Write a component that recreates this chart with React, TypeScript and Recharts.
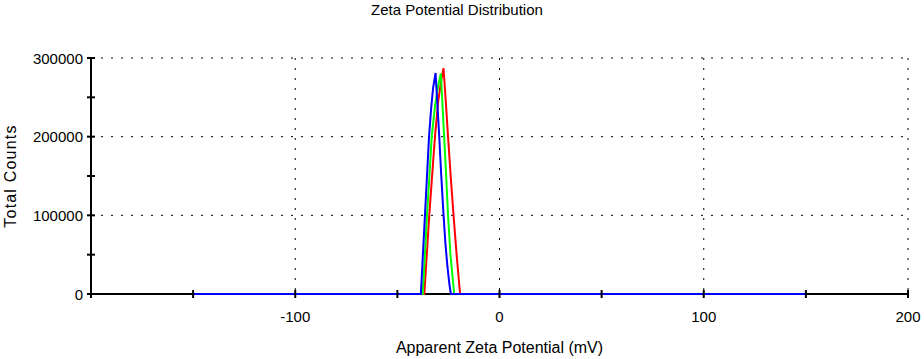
import { CartesianGrid, Line, LineChart, XAxis, YAxis } from 'recharts';

const X_TICKS = [-200, -150, -100, -50, 0, 50, 100, 150, 200];
const X_LABELED = [-100, 0, 100, 200];
const Y_TICKS = [0, 50000, 100000, 150000, 200000, 250000, 300000];
const Y_LABELED = [0, 100000, 200000, 300000];

// mV / counts
const RED_MV = [-150, -36.8, -35.6, -34.4, -33, -31.6, -30, -28.5, -27.4, -26.3, -25.2, -23.9, -22.5, -21, -19.3, 150];
const RED_COUNTS = [0, 0, 50000, 100000, 150000, 200000, 245000, 272000, 287000, 245000, 200000, 150000, 100000, 50000, 0, 0];

const GREEN_MV = [-150, -37.6, -36.5, -35.5, -34.3, -33.2, -31.5, -30, -28.7, -27.9, -27.1, -26.1, -25.2, -24, -22.2, 150];
const GREEN_COUNTS = [0, 0, 50000, 100000, 150000, 200000, 240000, 265000, 280500, 240000, 200000, 150000, 100000, 50000, 0, 0];

const BLUE_MV = [-150, -38.5, -37.5, -36.5, -35.5, -34.5, -33.5, -32.5, -31.3, -30.5, -29.5, -28.5, -27.5, -26.5, -25.5, -24.5, -23.8, 150];
const BLUE_COUNTS = [0, 0, 50000, 100000, 150000, 200000, 235000, 262000, 281000, 245000, 200000, 150000, 105000, 65000, 35000, 12000, 0, 0];

const zip = (mv: number[], counts: number[]) => mv.map((x, i) => ({ x, y: counts[i] }));

const FONT = '"Liberation Sans", Arial, sans-serif';

function XTick({ x, y, payload }: any) {
  const v = payload.value;
  return (
    <g>
      <line x1={x} x2={x} y1={y - 4} y2={y + 4} stroke="#000" strokeWidth={2} />
      {X_LABELED.includes(v) && (
        <text x={x} y={y + 28} textAnchor="middle" fontSize={15} fill="#000" fontFamily={FONT}>
          {v}
        </text>
      )}
    </g>
  );
}

function YTick({ x, y, payload }: any) {
  const v = payload.value;
  return (
    <g>
      <line x1={x - 4} x2={x + 4} y1={y} y2={y} stroke="#000" strokeWidth={2} />
      {Y_LABELED.includes(v) && (
        <text x={x - 8} y={y + 5.5} textAnchor="end" fontSize={15} fill="#000" fontFamily={FONT}>
          {v}
        </text>
      )}
    </g>
  );
}

export default function App() {
  return (
    <div style={{ position: 'absolute', left: 0, top: 0, width: 924, height: 359, background: '#fff', fontFamily: FONT }}>
      <div style={{ position: 'absolute', left: 0, width: 914, top: 1, textAlign: 'center', fontSize: 15, color: '#000' }}>
        Zeta Potential Distribution
      </div>
      <LineChart width={924} height={359} margin={{ top: 58, right: 16, bottom: 0, left: 0 }}>
        <CartesianGrid
          stroke="#000"
          strokeDasharray="2 8"
          horizontalValues={[100000, 200000, 300000]}
          verticalValues={[-100, 0, 100, 200]}
        />
        <XAxis
          type="number"
          dataKey="x"
          domain={[-200, 200]}
          ticks={X_TICKS}
          interval={0}
          height={65}
          tickSize={0}
          tickMargin={0}
          tick={<XTick />}
          axisLine={{ stroke: '#000', strokeWidth: 2 }}
          allowDataOverflow
          label={{ value: 'Apparent Zeta Potential (mV)', position: 'insideBottom', offset: 6, fontSize: 16, fill: '#000', fontFamily: FONT }}
        />
        <YAxis
          type="number"
          domain={[0, 300000]}
          ticks={Y_TICKS}
          interval={0}
          width={91}
          tickSize={0}
          tickMargin={0}
          tick={<YTick />}
          axisLine={{ stroke: '#000', strokeWidth: 2 }}
          label={{ value: 'Total Counts', angle: -90, position: 'insideLeft', offset: 10, fontSize: 16, letterSpacing: 1.2, fill: '#000', fontFamily: FONT, style: { textAnchor: 'middle' } }}
        />
        <Line data={zip(RED_MV, RED_COUNTS)} dataKey="y" stroke="#FF0000" strokeWidth={2} dot={false} isAnimationActive={false} zIndex={700} />
        <Line data={zip(GREEN_MV, GREEN_COUNTS)} dataKey="y" stroke="#00FF00" strokeWidth={2} dot={false} isAnimationActive={false} zIndex={700} />
        <Line data={zip(BLUE_MV, BLUE_COUNTS)} dataKey="y" stroke="#0000FF" strokeWidth={2} dot={false} isAnimationActive={false} zIndex={700} />
      </LineChart>
    </div>
  );
}
